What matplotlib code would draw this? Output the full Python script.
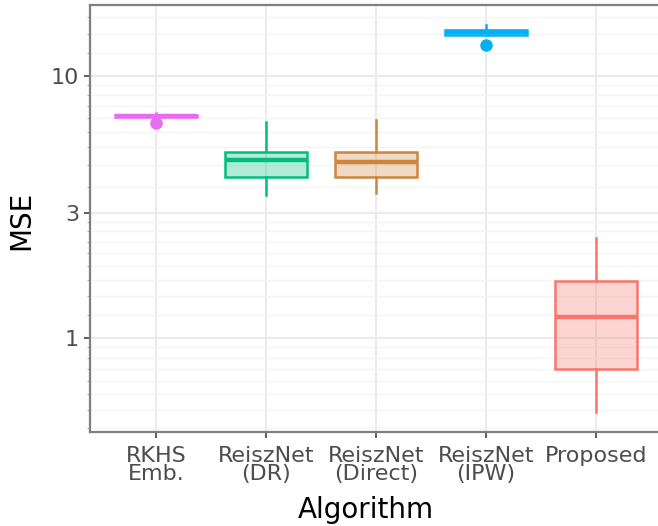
import matplotlib
matplotlib.use("Agg")
import matplotlib.pyplot as plt
import numpy as np
from matplotlib.ticker import FixedLocator, NullFormatter

# ---- data ----
categories = ["RKHS\nEmb.", "ReiszNet\n(DR)", "ReiszNet\n(Direct)", "ReiszNet\n(IPW)", "Proposed"]
colors = ["#E76BF3", "#00BF7D", "#CD853F", "#00B0F6", "#F8766D"]
q1 = [6.99, 4.13, 4.10, 14.35, 0.762]
median = [7.04, 4.78, 4.71, 14.65, 1.20]
q3 = [7.10, 5.14, 5.14, 14.93, 1.65]
whislo = [6.99, 3.51, 3.57, 14.35, 0.523]
whishi = [7.22, 6.68, 6.78, 15.6, 2.40]
outliers = [[6.59], [], [], [13.09], []]

y_major = [1, 3, 10]
y_major_labels = ["1", "3", "10"]

# ---- figure ----
W, H = 658, 526
fig = plt.figure(figsize=(W / 100, H / 100), dpi=100)
ax = fig.add_axes([90 / W, 1 - 431.7 / H, 1 - 90 / W, (431.7 - 5) / H])

ax.set_yscale("log")
ax.set_ylim(0.4407, 18.59)
ax.set_xlim(0.4, 5.565)

# minor breaks: linear subdivisions between (extended) major breaks
ext = [0.3] + y_major + [30]
minor = []
for a, b in zip(ext[:-1], ext[1:]):
    minor += list(np.linspace(a, b, 10)[1:-1])

ax.yaxis.set_major_locator(FixedLocator(y_major))
ax.set_yticklabels(y_major_labels)
ax.yaxis.set_minor_locator(FixedLocator(minor))
ax.yaxis.set_minor_formatter(NullFormatter())

positions = np.arange(1, len(categories) + 1)
ax.set_xticks(positions)
ax.set_xticklabels(categories, linespacing=0.88)

# grid
ax.set_axisbelow(True)
ax.grid(which="major", axis="both", color="#EBEBEB", linewidth=1.5)
ax.grid(which="minor", axis="y", color="#F4F4F4", linewidth=1.0)

# boxes
for i in range(len(categories)):
    stats = [dict(med=median[i], q1=q1[i], q3=q3[i], whislo=whislo[i],
                  whishi=whishi[i], fliers=outliers[i])]
    c = colors[i]
    ax.bxp(stats, positions=[positions[i]], widths=0.75, patch_artist=True,
           showcaps=False, manage_ticks=False,
           boxprops=dict(facecolor=matplotlib.colors.to_rgba(c, 0.3), edgecolor=c, linewidth=1.8),
           medianprops=dict(color=c, linewidth=3.2, solid_capstyle="butt"),
           whiskerprops=dict(color=c, linewidth=1.8),
           flierprops=dict(marker="o", markerfacecolor=c, markeredgecolor=c, markersize=8))

# spines
for s in ["left", "top", "bottom"]:
    ax.spines[s].set_color("#7F7F7F")
    ax.spines[s].set_linewidth(1.6)
ax.spines["right"].set_visible(False)

ax.tick_params(axis="both", which="major", length=4.5, width=1.1, color="#333333",
               labelsize=16, labelcolor="#4D4D4D", pad=3.5)
ax.tick_params(axis="x", which="major", pad=5.5)
ax.tick_params(axis="y", which="minor", length=2, width=0.8, color="#AAAAAA")
ax.tick_params(axis="x", which="minor", length=0)

fig.text(366 / W, 1 - 510 / H, "Algorithm", ha="center", va="center", fontsize=20, color="black")
fig.text(21 / W, 1 - 220 / H, "MSE", ha="center", va="center", rotation=90, fontsize=20, color="black")

fig.savefig("out.png", dpi=100)
